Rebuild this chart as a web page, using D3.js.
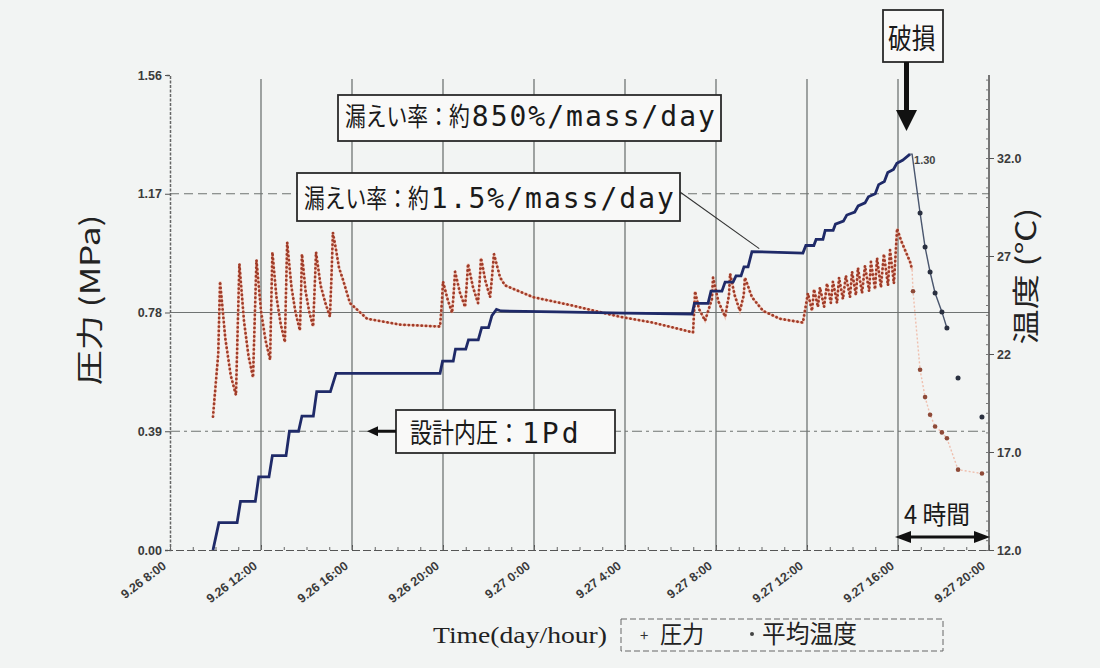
<!DOCTYPE html>
<html>
<head>
<meta charset="utf-8">
<script src="https://cdn.jsdelivr.net/npm/d3@7"></script>
<style>
  body { margin: 0; background: #f2f4f3; }
  svg { display: block; }
  .tick text { font-family: "Liberation Sans", Arial, sans-serif; font-weight: bold; font-size: 12.5px; fill: #3a3a3a; }
</style>
</head>
<body>
<svg id="chart" width="1100" height="668"></svg>
<script>
// time is in hours counted from 9.26 0:00
const xTicks = [8, 12, 16, 20, 24, 28, 32, 36, 40, 44];
const xTickLabels = ["9.26 8:00", "9.26 12:00", "9.26 16:00", "9.26 20:00", "9.27 0:00",
  "9.27 4:00", "9.27 8:00", "9.27 12:00", "9.27 16:00", "9.27 20:00"];
const pTicks = [0, 0.39, 0.78, 1.17, 1.56];
const pTickLabels = ["0.00", "0.39", "0.78", "1.17", "1.56"];
const tTicks = [12, 17, 22, 27, 32];
const tTickLabels = ["12.0", "17.0", "22", "27", "32.0"];

// 圧力 (MPa): [hour, MPa]
const pressureRise = [
  [9.89, 0], [10.15, 0.09], [10.95, 0.09], [11.10, 0.16], [11.75, 0.16], [11.90, 0.24],
  [12.35, 0.24], [12.50, 0.31], [13.10, 0.31], [13.25, 0.39], [13.65, 0.39], [13.80, 0.44],
  [14.30, 0.44], [14.45, 0.52], [15.05, 0.52], [15.30, 0.58], [19.87, 0.58], [19.98, 0.62],
  [20.45, 0.62], [20.55, 0.66], [21.00, 0.66], [21.12, 0.69], [21.55, 0.69], [21.70, 0.73],
  [22.00, 0.73], [22.15, 0.77], [22.35, 0.79], [22.55, 0.785], [25.0, 0.782], [28.0, 0.778],
  [30.95, 0.775], [31.05, 0.81], [31.65, 0.81], [31.78, 0.85], [32.26, 0.85], [32.40, 0.88],
  [32.75, 0.88], [32.88, 0.90], [33.10, 0.90], [33.23, 0.93], [33.41, 0.93], [33.58, 0.98],
  [35.82, 0.975], [35.95, 1.00], [36.30, 1.00], [36.40, 1.02], [36.70, 1.02], [36.80, 1.05],
  [37.15, 1.05], [37.25, 1.07], [37.60, 1.08], [37.75, 1.10], [38.10, 1.11], [38.25, 1.13],
  [38.55, 1.14], [38.70, 1.16], [39.00, 1.17], [39.15, 1.20], [39.40, 1.21], [39.55, 1.24],
  [39.80, 1.25], [39.95, 1.27], [40.20, 1.28], [40.53, 1.30]
];
const pressureFall = [
  [40.53, 1.30], [40.62, 1.30], [40.97, 1.107], [41.19, 0.995], [41.41, 0.913],
  [41.63, 0.844], [41.93, 0.782], [42.15, 0.729]
];
const pressureTail = [[42.64, 0.565], [43.69, 0.437]];

// 平均温度 (℃): [hour, ℃]
const tempStage1 = [
  [9.89, 18.8], [10.12, 22.0], [10.20, 25.7], [10.43, 22.8], [10.67, 20.9], [10.90, 19.9],
  [10.98, 23.5], [11.05, 26.6], [11.25, 23.7], [11.45, 21.9], [11.65, 20.8],
  [11.73, 24.0], [11.80, 26.8], [12.00, 24.2], [12.20, 22.7], [12.40, 21.7],
  [12.45, 24.5], [12.50, 27.2], [12.68, 24.9], [12.87, 23.5], [13.05, 22.6],
  [13.10, 25.2], [13.15, 27.7], [13.34, 25.4], [13.52, 24.1], [13.71, 23.2],
  [13.76, 25.1], [13.80, 27.1], [13.96, 25.2], [14.13, 24.1], [14.29, 23.4],
  [14.36, 25.4], [14.42, 27.2], [14.62, 25.5], [14.83, 24.6], [15.03, 23.9],
  [15.10, 26.0], [15.16, 28.2], [15.30, 27.3], [15.43, 26.4], [15.60, 25.8], [15.91, 24.6],
  [16.66, 23.8], [18.11, 23.5], [19.87, 23.4]
];
const tempStage2 = [
  [19.95, 24.6], [20.00, 25.7], [20.20, 24.8], [20.40, 24.1],
  [20.47, 25.1], [20.53, 26.2], [20.75, 25.1], [20.97, 24.4],
  [21.04, 25.5], [21.10, 26.6], [21.32, 25.4], [21.54, 24.6],
  [21.61, 25.7], [21.67, 26.9], [21.87, 25.7], [22.07, 24.9],
  [22.16, 26.0], [22.24, 27.1], [22.51, 25.9], [22.73, 25.5], [23.96, 24.9], [25.58, 24.5],
  [27.78, 23.9], [29.23, 23.6], [30.99, 23.1]
];
const tempStage3 = [
  [31.04, 24.2], [31.08, 25.2], [31.25, 24.3], [31.52, 23.7],
  [31.82, 24.8], [31.87, 25.9], [32.10, 24.7], [32.40, 23.9],
  [32.57, 25.0], [32.62, 26.1], [32.82, 25.0], [33.05, 24.2],
  [33.22, 25.0], [33.27, 25.9], [33.58, 24.9], [34.07, 24.2], [34.81, 23.8], [35.82, 23.6]
];
const tempStage4 = [
  [36.04, 25.1], [36.22, 24.2], [36.31, 25.3], [36.48, 24.4], [36.57, 25.4], [36.75, 24.4],
  [36.88, 25.6], [37.05, 24.6], [37.14, 25.7], [37.32, 24.6], [37.41, 25.9], [37.58, 24.8],
  [37.71, 26.0], [37.89, 24.9], [37.98, 26.2], [38.15, 25.0], [38.24, 26.4], [38.42, 25.1],
  [38.55, 26.5], [38.73, 25.2], [38.81, 26.7], [38.99, 25.3], [39.08, 26.9], [39.25, 25.4],
  [39.38, 27.1], [39.56, 25.5], [39.65, 27.3], [39.82, 25.6],
  [39.96, 28.4], [40.13, 27.8], [40.31, 27.3], [40.53, 26.7], [40.62, 26.3]
];
const tempAfter = [
  [40.62, 26.3], [40.66, 25.2], [40.97, 21.2], [41.19, 19.8], [41.41, 18.9], [41.63, 18.3],
  [41.93, 18.0], [42.15, 17.7], [42.64, 16.1], [43.69, 15.9]
];

const cjk = "'Noto Sans CJK JP', sans-serif";
const svg = d3.select("#chart");
svg.append("rect").attr("width", 1100).attr("height", 668).attr("fill", "#f2f4f3");

const x = d3.scaleLinear().domain([8, 44]).range([170, 989]);
const yP = d3.scaleLinear().domain([0, 1.56]).range([550, 75]);
const yT = d3.scaleLinear().domain([12, 32]).range([550, 158]);

// grid
svg.append("g").selectAll("line").data(xTicks.slice(1, -1)).enter().append("line")
  .attr("x1", d => x(d)).attr("x2", d => x(d))
  .attr("y1", yP(1.56) + 4).attr("y2", yP(0))
  .attr("stroke", "#7a7e7d").attr("stroke-width", 1.4);
const hDash = ["10,4,3,4", "none", "9,5"];
svg.append("g").selectAll("line").data(pTicks.slice(1, -1)).enter().append("line")
  .attr("x1", x(8)).attr("x2", x(44))
  .attr("y1", d => yP(d)).attr("y2", d => yP(d))
  .attr("stroke", "#6f7372").attr("stroke-width", 1.2)
  .attr("stroke-dasharray", (d, i) => hDash[i]);

// axes
const bottom = svg.append("g").attr("transform", `translate(0,${yP(0)})`)
  .call(d3.axisBottom(x).tickValues(xTicks).tickSize(-5)
    .tickFormat((d, i) => xTickLabels[i]));
bottom.select(".domain").attr("stroke", "#555").attr("stroke-dasharray", "8,3");
bottom.selectAll(".tick line").attr("stroke", "#555");
bottom.selectAll(".tick text")
  .attr("x", 0).attr("y", 0).attr("dy", "0.35em")
  .attr("text-anchor", "end")
  .attr("transform", "translate(-6,14) rotate(-37)");
svg.append("g").attr("transform", `translate(0,${yP(0)})`)
  .call(d3.axisBottom(x).tickValues(d3.range(8, 44.01, 1)).tickSize(-3).tickFormat(""))
  .call(g => g.select(".domain").remove())
  .selectAll("line").attr("stroke", "#666");

const left = svg.append("g").attr("transform", `translate(${x(8)},0)`)
  .call(d3.axisLeft(yP).tickValues(pTicks).tickSize(5)
    .tickFormat((d, i) => pTickLabels[i]));
left.select(".domain").attr("stroke", "#666").attr("stroke-width", 1.5).attr("stroke-dasharray", "3,1.5");
left.selectAll(".tick line").attr("stroke", "#555");

svg.append("line").attr("x1", x(44)).attr("x2", x(44)).attr("y1", yP(1.56)).attr("y2", yP(0))
  .attr("stroke", "#555").attr("stroke-width", 1.6);
const right = svg.append("g").attr("transform", `translate(${x(44)},0)`)
  .call(d3.axisRight(yT).tickValues(tTicks).tickSize(5)
    .tickFormat((d, i) => tTickLabels[i]));
right.select(".domain").remove();
right.selectAll(".tick line").attr("stroke", "#555");
svg.append("g").attr("transform", `translate(${x(44)},0)`)
  .call(d3.axisLeft(yT).tickValues(d3.range(12, 36.1, 0.5)).tickSize(3).tickFormat(""))
  .call(g => g.select(".domain").remove())
  .selectAll("line").attr("stroke", "#777");

// axis titles
svg.append("text")
  .attr("transform", "translate(100,300) rotate(-90) scale(1.3,1)")
  .attr("text-anchor", "middle").attr("font-family", cjk).attr("font-size", 27)
  .attr("fill", "#222").text("圧力 (MPa)");
svg.append("text")
  .attr("transform", "translate(1036,276) rotate(-90) scale(1.3,1)")
  .attr("text-anchor", "middle").attr("font-family", cjk).attr("font-size", 27)
  .attr("fill", "#222").text("温度 (℃)");
svg.append("text")
  .attr("x", 433).attr("y", 643)
  .attr("font-family", "'Liberation Serif', 'DejaVu Serif', serif").attr("font-size", 23)
  .attr("textLength", 174).attr("lengthAdjust", "spacingAndGlyphs")
  .attr("fill", "#222").text("Time(day/hour)");

// temperature
const tLine = d3.line().x(d => x(d[0])).y(d => yT(d[1]));
const tempAll = tempStage1.concat(tempStage2, tempStage3, tempStage4);
svg.append("path").attr("d", tLine(tempAll)).attr("fill", "none")
  .attr("stroke", "#efae98").attr("stroke-width", 2.4).attr("opacity", 0.7);
svg.append("path").attr("d", tLine(tempAll)).attr("fill", "none")
  .attr("stroke", "#a03c29").attr("stroke-width", 2.8).attr("stroke-linecap", "round")
  .attr("stroke-dasharray", "0.1,4.2");
svg.append("path").attr("d", tLine(tempAfter)).attr("fill", "none")
  .attr("stroke", "#efbfae").attr("stroke-width", 1.4).attr("stroke-dasharray", "2,2");
svg.append("g").selectAll("circle").data(tempAfter.slice(1)).enter().append("circle")
  .attr("cx", d => x(d[0])).attr("cy", d => yT(d[1])).attr("r", 2.3).attr("fill", "#8e4a38");

// pressure
const pLine = d3.line().x(d => x(d[0])).y(d => yP(d[1]));
svg.append("path").attr("d", pLine(pressureRise)).attr("fill", "none")
  .attr("stroke", "#1f2a68").attr("stroke-width", 2.8).attr("stroke-linejoin", "miter");
svg.append("path").attr("d", pLine(pressureFall)).attr("fill", "none")
  .attr("stroke", "#4a566e").attr("stroke-width", 1.4);
svg.append("g").selectAll("circle").data(pressureFall.slice(2).concat(pressureTail)).enter()
  .append("circle").attr("cx", d => x(d[0])).attr("cy", d => yP(d[1]))
  .attr("r", 2.5).attr("fill", "#2a3040");
const peak = pressureRise[pressureRise.length - 1];
svg.append("text").attr("x", x(peak[0]) + 4).attr("y", yP(peak[1]) + 10)
  .attr("font-family", "'Liberation Sans', Arial, sans-serif").attr("font-weight", "bold")
  .attr("font-size", 11).attr("fill", "#444").text("1.30");

// annotations
function noteBox(bx, by, bw, bh) {
  svg.append("rect").attr("x", bx).attr("y", by).attr("width", bw).attr("height", bh)
    .attr("fill", "#f9f9f8").attr("stroke", "#2a2a2a").attr("stroke-width", 1.8);
}
function noteText(px, base, jp, latin, cell, fs, ls) {
  svg.append("text").attr("transform", `translate(${px},${base}) scale(${cell / fs},1)`)
    .attr("font-family", cjk).attr("font-size", fs).attr("fill", "#1a1a1a").text(jp);
  if (latin) {
    svg.append("text").attr("x", px + jp.length * cell + 2).attr("y", base)
      .attr("font-family", "'DejaVu Sans Mono', monospace").attr("font-size", 28)
      .attr("letter-spacing", ls).attr("fill", "#1a1a1a").text(latin);
  }
}

// leader from 1.5% box to the pressure plateau
svg.append("line").attr("x1", 680).attr("y1", 192)
  .attr("x2", x(33.9)).attr("y2", yP(0.98) - 3)
  .attr("stroke", "#333").attr("stroke-width", 1.1);

noteBox(338, 95, 383, 46);
noteText(345, 126, "漏えい率：約", "850%/mass/day", 20.8, 26, 2);
noteBox(297, 173, 383, 48);
noteText(304, 208, "漏えい率：約", "1.5%/mass/day", 20.8, 26, 2);
noteBox(396, 410, 219, 43);
noteText(410, 443, "設計内圧：", "1Pd", 22, 27, 3);

// arrow to design pressure line
const yd = yP(0.39);
svg.append("line").attr("x1", 396).attr("x2", 376).attr("y1", yd).attr("y2", yd)
  .attr("stroke", "#111").attr("stroke-width", 3);
svg.append("path").attr("d", `M367,${yd} L378,${yd - 5} L378,${yd + 5} Z`).attr("fill", "#111");

// 破損
noteBox(883, 10, 60, 52);
noteText(888, 49, "破損", null, 23.8, 28, 0);
svg.append("line").attr("x1", 906.5).attr("x2", 906.5).attr("y1", 62).attr("y2", 112)
  .attr("stroke", "#111").attr("stroke-width", 5);
svg.append("path").attr("d", "M896,110 L917,110 L906.5,131 Z").attr("fill", "#111");

// 4 時間
const ya = 537;
svg.append("line").attr("x1", x(40) + 12).attr("x2", x(44) - 12).attr("y1", ya).attr("y2", ya)
  .attr("stroke", "#111").attr("stroke-width", 3);
svg.append("path").attr("d", `M${x(40) - 3},${ya} L${x(40) + 13},${ya - 6} L${x(40) + 13},${ya + 6} Z`).attr("fill", "#111");
svg.append("path").attr("d", `M${x(44) + 1},${ya} L${x(44) - 15},${ya - 6} L${x(44) - 15},${ya + 6} Z`).attr("fill", "#111");
svg.append("text").attr("transform", "translate(904,524) scale(0.95,1)")
  .attr("font-family", cjk).attr("font-size", 25).attr("fill", "#1a1a1a").text("4 時間");

// legend
svg.append("rect").attr("x", 621).attr("y", 619).attr("width", 322).attr("height", 32)
  .attr("fill", "none").attr("stroke", "#666").attr("stroke-dasharray", "6,3");
svg.append("text").attr("x", 640).attr("y", 641).attr("font-family", cjk)
  .attr("font-size", 15).attr("fill", "#333").text("+");
svg.append("text").attr("transform", "translate(660,643) scale(0.92,1)")
  .attr("font-family", cjk).attr("font-size", 24).attr("fill", "#222").text("圧力");
svg.append("circle").attr("cx", 752).attr("cy", 634).attr("r", 2).attr("fill", "#444");
svg.append("text").attr("transform", "translate(762,643) scale(0.95,1)")
  .attr("font-family", cjk).attr("font-size", 25).attr("fill", "#222").text("平均温度");
</script>
</body>
</html>
